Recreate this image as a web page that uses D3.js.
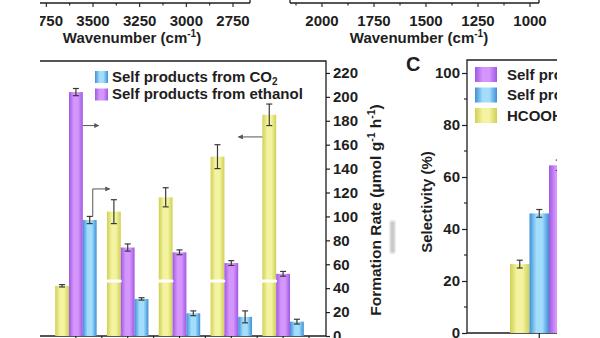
<!DOCTYPE html>
<html>
<head>
<meta charset="utf-8">
<script src="https://cdn.jsdelivr.net/npm/d3@7/dist/d3.min.js"></script>
<style>
  html, body { margin: 0; padding: 0; background: #fff; }
  svg { display: block; font-family: "Liberation Sans", Arial, sans-serif; font-weight: bold; }
</style>
</head>
<body>
<svg id="fig" width="600" height="338"></svg>
<script>
// ---- Panel B: formation rates (µmol g-1 h-1) per sample group ----
const groups = ["1", "2", "3", "4", "5"];
const seriesB = ["HCOOH", "ethanol", "CO2"];
const rateHCOOH = [42, 104, 116, 150, 185];
const errHCOOH = [1, 10, 8, 10, 9];
const rateEthanol = [204, 74, 70, 61, 52];
const errEthanol = [3, 3, 2, 2, 2];
const rateCO2 = [97, 31, 19, 16, 12];
const errCO2 = [3, 1, 2, 5, 2];
const rateTicks = [0, 20, 40, 60, 80, 100, 120, 140, 160, 180, 200, 220];

// ---- Panel C: selectivity (%) ----
const selGroups = ["1"];
const seriesC = ["HCOOH", "CO2", "ethanol"];
const selHCOOH = [26.5];
const errSelHCOOH = [1.5];
const selCO2 = [46];
const errSelCO2 = [1.5];
const selEthanol = [64.5];
const errSelEthanol = [2];
const selTicks = [0, 20, 40, 60, 80, 100];
const selMinorTicks = [10, 30, 50, 70, 90];

// ---- Upper spectra panels: wavenumber axes ----
const wnLeftTicks = [3750, 3500, 3250, 3000, 2750];
const wnLeftMinor = [3875, 3625, 3375, 3125, 2875, 2625];
const wnRightTicks = [2000, 1750, 1500, 1250, 1000];
const wnRightMinor = [2125, 1875, 1625, 1375, 1125];

const legendB = [
  { key: "CO2", text: "Self products from CO", sub: "2" },
  { key: "ethanol", text: "Self products from ethanol", sub: null }
];
const legendC = [
  { key: "ethanol", text: "Self products from ethanol" },
  { key: "CO2", text: "Self products from CO\u2082" },
  { key: "HCOOH", text: "HCOOH" }
];

const ink = "#1e1e1e";
const svg = d3.select("#fig");
const defs = svg.append("defs");

// cylinder-like shading for each series
const shades = {
  HCOOH: ["#d0d052", "#f3f3a2"],
  ethanol: ["#9f58e4", "#d596fb"],
  CO2: ["#3d90d8", "#a2ddfb"]
};
Object.entries(shades).forEach(([k, [edge, mid]]) => {
  const g = defs.append("linearGradient").attr("id", "g-" + k)
    .attr("x1", "0").attr("x2", "1").attr("y1", "0").attr("y2", "0");
  g.append("stop").attr("offset", "0").attr("stop-color", edge);
  g.append("stop").attr("offset", "0.35").attr("stop-color", mid);
  g.append("stop").attr("offset", "0.65").attr("stop-color", mid);
  g.append("stop").attr("offset", "1").attr("stop-color", edge);
});
const fillOf = k => `url(#g-${k})`;

defs.append("clipPath").attr("id", "view")
  .append("rect").attr("x", 40).attr("y", 0).attr("width", 517).attr("height", 338);
defs.append("filter").attr("id", "soft")
  .append("feGaussianBlur").attr("stdDeviation", 1.2);

defs.append("marker").attr("id", "arrow")
  .attr("viewBox", "0 0 10 10").attr("refX", 9).attr("refY", 5)
  .attr("markerWidth", 5).attr("markerHeight", 5).attr("orient", "auto")
  .append("path").attr("d", "M0,0 L10,5 L0,10 z").attr("fill", "#555");

const root = svg.append("g").attr("clip-path", "url(#view)");

// ================= Upper spectra panels (axes only) =================
function wavenumberAxis(scale, major, minor, x0, x1, leftEdge, rightEdge, titleX) {
  const g = root.append("g");
  g.append("line").attr("x1", x0).attr("x2", x1).attr("y1", 3).attr("y2", 3)
    .attr("stroke", ink).attr("stroke-width", 1.3);
  if (leftEdge) g.append("line").attr("x1", x0).attr("x2", x0).attr("y1", -2).attr("y2", 3).attr("stroke", ink).attr("stroke-width", 1.3);
  if (rightEdge) g.append("line").attr("x1", x1).attr("x2", x1).attr("y1", -2).attr("y2", 3).attr("stroke", ink).attr("stroke-width", 1.3);
  g.selectAll(".tk").data(major.concat(minor)).join("line")
    .attr("x1", d => scale(d)).attr("x2", d => scale(d))
    .attr("y1", 3).attr("y2", d => major.includes(d) ? 7 : 5.5)
    .attr("stroke", ink).attr("stroke-width", 1.1);
  g.selectAll(".lb").data(major).join("text")
    .attr("x", d => scale(d)).attr("y", 26)
    .attr("text-anchor", "middle").attr("font-size", 15).attr("fill", ink)
    .text(d => d);
  const t = g.append("text").attr("x", titleX).attr("y", 43)
    .attr("text-anchor", "middle").attr("font-size", 15).attr("fill", ink);
  t.append("tspan").text("Wavenumber (cm");
  t.append("tspan").attr("font-size", 10).attr("dy", -6).text("-1");
  t.append("tspan").attr("dy", 6).text(")");
}
const wnLeft = d3.scaleLinear().domain([3500, 2750]).range([93, 233]);
const wnRight = d3.scaleLinear().domain([2000, 1000]).range([322, 530]);
wavenumberAxis(wnLeft, wnLeftTicks, wnLeftMinor.filter(d => wnLeft(d) <= 250), 30, 250, false, true, 132);
wavenumberAxis(wnRight, wnRightTicks, wnRightMinor, 290, 539, true, true, 419);

// ================= Panel B =================
const yB = d3.scaleLinear().domain([0, 230]).range([336, 61]);
const xB = d3.scaleBand().domain(groups).range([50, 309]).paddingInner(0.2).paddingOuter(0.1);
const xBs = d3.scaleBand().domain(seriesB).range([0, xB.bandwidth()]);
const axisXB = 326;

const pB = root.append("g");
// frame
pB.append("path").attr("d", `M30,${yB(230)} H${axisXB} V${yB(0)} H30`)
  .attr("fill", "none").attr("stroke", ink).attr("stroke-width", 1.3);

const rowsB = groups.map((g, i) => ({
  group: g,
  vals: [
    { key: "HCOOH", v: rateHCOOH[i], e: errHCOOH[i] },
    { key: "ethanol", v: rateEthanol[i], e: errEthanol[i] },
    { key: "CO2", v: rateCO2[i], e: errCO2[i] }
  ]
}));
const flatB = rowsB.flatMap(r => r.vals.map(d => ({ ...d, group: r.group })));
const bxB = d => xB(d.group) + xBs(d.key);
const bw = xBs.bandwidth();

pB.selectAll(".bar").data(flatB).join("rect")
  .attr("x", bxB).attr("width", bw)
  .attr("y", d => yB(d.v)).attr("height", d => yB(0) - yB(d.v))
  .attr("fill", d => fillOf(d.key));

// axis-break marks on the HCOOH bars
pB.selectAll(".brk").data(flatB.filter(d => d.key === "HCOOH" && d.v > 60)).join("rect")
  .attr("x", d => bxB(d) - 1).attr("width", bw + 2)
  .attr("y", yB(46) - 1.5).attr("height", 3)
  .attr("rx", 1.5).attr("fill", "#fff");

function errorBars(sel, data, xf, yf, w, cap) {
  const g = sel.append("g").attr("stroke", "#3a3a3a").attr("stroke-width", 1.2);
  g.selectAll(".ev").data(data).join("line")
    .attr("x1", d => xf(d) + w / 2).attr("x2", d => xf(d) + w / 2)
    .attr("y1", d => yf(d.v - d.e)).attr("y2", d => yf(d.v + d.e));
  ["-", "+"].forEach(s => {
    g.selectAll(".ec" + (s === "+" ? "p" : "m")).data(data).join("line")
      .attr("x1", d => xf(d) + w / 2 - cap).attr("x2", d => xf(d) + w / 2 + cap)
      .attr("y1", d => yf(s === "+" ? d.v + d.e : d.v - d.e))
      .attr("y2", d => yf(s === "+" ? d.v + d.e : d.v - d.e));
  });
}
errorBars(pB, flatB, bxB, yB, bw, 3);

// bottom ticks at group centres and boundaries
const tickXs = groups.flatMap(g => [xB(g) + xB.bandwidth() / 2, xB(g) + xB.bandwidth() + xB.step() * xB.paddingInner() / 2]);
pB.selectAll(".bt").data(tickXs).join("line")
  .attr("x1", d => d).attr("x2", d => d).attr("y1", yB(0)).attr("y2", yB(0) + 4)
  .attr("stroke", ink).attr("stroke-width", 1.1);

// right axis
const axB = pB.append("g").attr("transform", `translate(${axisXB},0)`)
  .call(d3.axisRight(yB).tickValues(rateTicks).tickSize(4).tickPadding(3));
axB.select(".domain").remove();
axB.selectAll("line").attr("stroke", ink).attr("stroke-width", 1.2);
axB.selectAll("text").attr("font-size", 15).attr("font-family", "Liberation Sans, Arial, sans-serif")
  .attr("font-weight", "bold").attr("fill", ink);

const tB = pB.append("text").attr("transform", "translate(381,210) rotate(-90)")
  .attr("text-anchor", "middle").attr("font-size", 15.5).attr("fill", ink);
tB.append("tspan").text("Formation Rate (\u03bcmol g");
tB.append("tspan").attr("font-size", 10.5).attr("dy", -6).text("-1");
tB.append("tspan").attr("dy", 6).text(" h");
tB.append("tspan").attr("font-size", 10.5).attr("dy", -6).text("-1");
tB.append("tspan").attr("dy", 6).text(")");

// legend
legendB.forEach((d, i) => {
  const y = 71 + i * 17.5;
  pB.append("rect").attr("x", 95).attr("y", y).attr("width", 13).attr("height", 12).attr("fill", fillOf(d.key));
  const t = pB.append("text").attr("x", 112).attr("y", y + 10.5).attr("font-size", 15).attr("fill", ink);
  t.append("tspan").text(d.text);
  if (d.sub) t.append("tspan").attr("font-size", 10).attr("dy", 3).text(d.sub);
});

// arrows pointing to the axis each series is read from
const first = groups[0], last = groups[groups.length - 1];
const ethRight = xB(first) + xBs("ethanol") + bw;
pB.append("line").attr("x1", ethRight).attr("x2", ethRight + 16)
  .attr("y1", yB(176)).attr("y2", yB(176))
  .attr("stroke", "#555").attr("stroke-width", 1).attr("marker-end", "url(#arrow)");
const co2X = xB(first) + xBs("CO2") + bw * 0.72;
pB.append("path").attr("d", `M${co2X},${yB(rateCO2[0] + errCO2[0])} V${yB(123)} H${co2X + 17}`)
  .attr("fill", "none").attr("stroke", "#555").attr("stroke-width", 1).attr("marker-end", "url(#arrow)");
const hLeft = xB(last) + xBs("HCOOH");
pB.append("line").attr("x1", hLeft).attr("x2", hLeft - 24)
  .attr("y1", yB(166.5)).attr("y2", yB(166.5))
  .attr("stroke", "#555").attr("stroke-width", 1).attr("marker-end", "url(#arrow)");

// faint grey smudge to the right of the axis title
root.append("rect").attr("x", 390).attr("y", 221).attr("width", 5).attr("height", 32)
  .attr("fill", "#c8c8c8").attr("filter", "url(#soft)");

// ================= Panel C =================
const yC = d3.scaleLinear().domain([0, 105]).range([333, 60]);
const xC = d3.scaleBand().domain(selGroups).range([510, 568.5]);
const xCs = d3.scaleBand().domain(seriesC).range([0, xC.bandwidth()]);
const axisXC = 467;
const pC = root.append("g");

pC.append("text").attr("x", 406).attr("y", 71).attr("font-size", 20).attr("fill", ink).text("C");

pC.append("path").attr("d", `M620,${yC(105)} H${axisXC} V${yC(0)} H620`)
  .attr("fill", "none").attr("stroke", ink).attr("stroke-width", 1.3);

const flatC = selGroups.flatMap((g, i) => [
  { group: g, key: "HCOOH", v: selHCOOH[i], e: errSelHCOOH[i] },
  { group: g, key: "CO2", v: selCO2[i], e: errSelCO2[i] },
  { group: g, key: "ethanol", v: selEthanol[i], e: errSelEthanol[i] }
]);
const bxC = d => xC(d.group) + xCs(d.key);
const bwC = xCs.bandwidth();
pC.selectAll(".bar").data(flatC).join("rect")
  .attr("x", bxC).attr("width", bwC)
  .attr("y", d => yC(d.v)).attr("height", d => yC(0) - yC(d.v))
  .attr("fill", d => fillOf(d.key));
errorBars(pC, flatC, bxC, yC, bwC, 3);

pC.selectAll(".bt").data(selGroups).join("line")
  .attr("x1", g => xC(g) + xC.bandwidth() / 2).attr("x2", g => xC(g) + xC.bandwidth() / 2)
  .attr("y1", yC(0)).attr("y2", yC(0) + 5).attr("stroke", ink).attr("stroke-width", 1.2);

const axC = pC.append("g").attr("transform", `translate(${axisXC},0)`)
  .call(d3.axisLeft(yC).tickValues(selTicks).tickSize(5).tickPadding(2));
axC.select(".domain").remove();
axC.selectAll("line").attr("stroke", ink).attr("stroke-width", 1.2);
axC.selectAll("text").attr("font-size", 15).attr("font-family", "Liberation Sans, Arial, sans-serif")
  .attr("font-weight", "bold").attr("fill", ink);
pC.selectAll(".mt").data(selMinorTicks).join("line")
  .attr("x1", axisXC - 3).attr("x2", axisXC).attr("y1", d => yC(d)).attr("y2", d => yC(d))
  .attr("stroke", ink).attr("stroke-width", 1.1);

pC.append("text").attr("transform", "translate(432,202) rotate(-90)")
  .attr("text-anchor", "middle").attr("font-size", 15).attr("fill", ink)
  .text("Selectivity (%)");

legendC.forEach((d, i) => {
  const y = 67 + i * 20.5;
  pC.append("rect").attr("x", 475).attr("y", y).attr("width", 22).attr("height", 15).attr("fill", fillOf(d.key));
  pC.append("text").attr("x", 507).attr("y", y + 12.5).attr("font-size", 15).attr("fill", ink).text(d.text);
});
</script>
</body>
</html>
